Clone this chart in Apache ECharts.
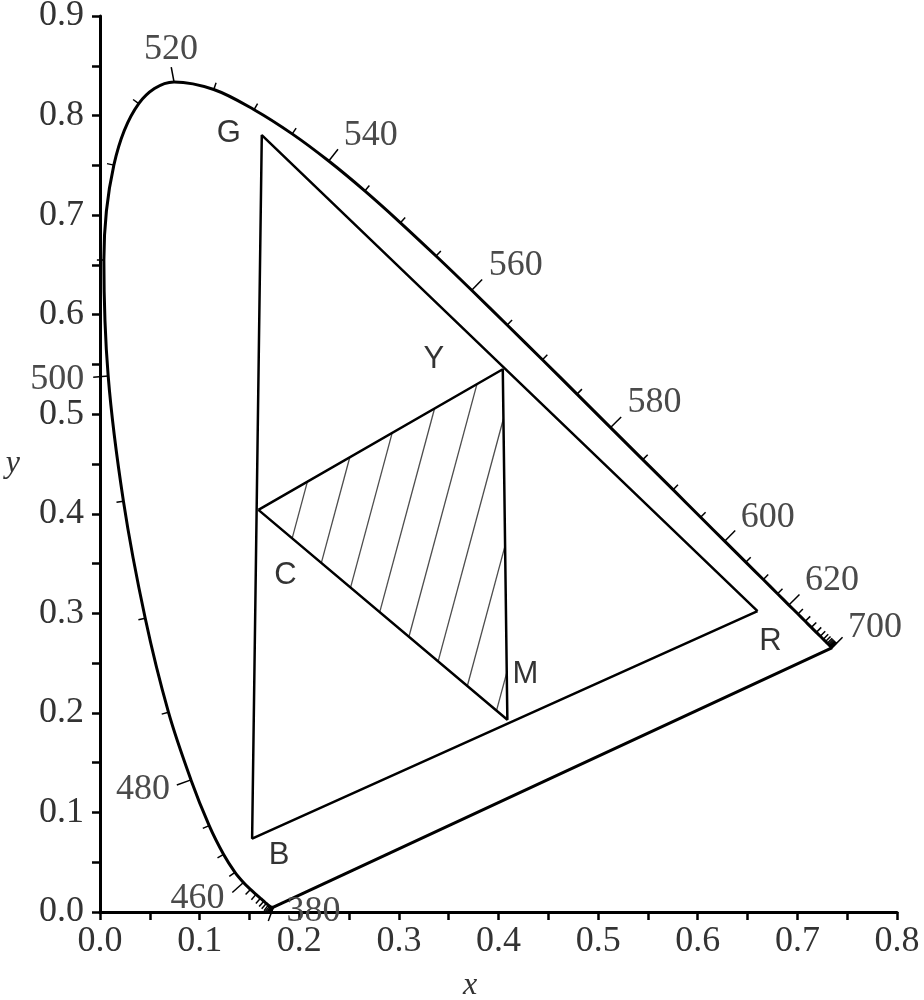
<!DOCTYPE html>
<html>
<head>
<meta charset="utf-8">
<script src="https://cdn.jsdelivr.net/npm/echarts/dist/echarts.min.js"></script>
<style>html,body{margin:0;padding:0;background:#fff}#c{width:924px;height:1000px}</style>
</head>
<body>
<div id="c"></div>
<script>
// ---------------- DATA ----------------
const wavelengths = [380,385,390,395,400,405,410,415,420,425,430,435,440,445,450,455,460,465,470,475,480,485,490,495,500,505,510,515,520,525,530,535,540,545,550,555,560,565,570,575,580,585,590,595,600,605,610,615,620,625,630,635,640,645,650,655,660,665,670,675,680,685,690,695,700];
const locusX = [0.1741,0.1740,0.1738,0.1736,0.1733,0.1730,0.1726,0.1721,0.1714,0.1703,0.1689,0.1669,0.1644,0.1611,0.1566,0.1510,0.1440,0.1355,0.1241,0.1096,0.0913,0.0687,0.0454,0.0235,0.0082,0.0039,0.0139,0.0389,0.0743,0.1142,0.1547,0.1929,0.2296,0.2658,0.3016,0.3373,0.3731,0.4087,0.4441,0.4788,0.5125,0.5448,0.5752,0.6029,0.6270,0.6482,0.6658,0.6801,0.6915,0.7006,0.7079,0.7140,0.7190,0.7230,0.7260,0.7283,0.7300,0.7311,0.7320,0.7327,0.7334,0.7340,0.7344,0.7346,0.7347];
const locusY = [0.0050,0.0050,0.0049,0.0049,0.0048,0.0048,0.0048,0.0048,0.0051,0.0058,0.0069,0.0086,0.0109,0.0138,0.0177,0.0227,0.0297,0.0399,0.0578,0.0868,0.1327,0.2007,0.2950,0.4127,0.5384,0.6548,0.7502,0.8120,0.8338,0.8262,0.8059,0.7816,0.7543,0.7243,0.6923,0.6589,0.6245,0.5896,0.5547,0.5202,0.4866,0.4544,0.4242,0.3965,0.3725,0.3514,0.3340,0.3197,0.3083,0.2993,0.2920,0.2859,0.2809,0.2770,0.2740,0.2717,0.2700,0.2689,0.2680,0.2673,0.2666,0.2660,0.2656,0.2654,0.2653];
const labeledWavelengths = [380,460,480,500,520,540,560,580,600,620,700];

const primaryNames = ['R','G','B'];
const primaryX = [0.6600, 0.1624, 0.1527];
const primaryY = [0.3023, 0.7804, 0.0738];

const secondaryNames = ['C','Y','M'];
const secondaryX = [0.1590, 0.4043, 0.4089];
const secondaryY = [0.4039, 0.5452, 0.1931];

// ---------------- STYLE ----------------
const serif = "'Liberation Serif','DejaVu Serif',serif";
const sans = "'Liberation Sans',Arial,sans-serif";
const wlLabelOffsets = {380:[40,5],460:[-46,16],480:[-48,10],500:[-51,4],520:[-3,-32],540:[42,-26],560:[44,-25],580:[44,-25],600:[43,-24],620:[43,-25],700:[43,-20]};
const vertexLabelOffsets = {R:[13,30],G:[-33,-2],B:[27,17],C:[27,66],Y:[-69,-10],M:[18,-45]};
const hatchDir = [0.26,-0.966];   // pixel direction of hatch strokes
const hatchSpacing = 34.6, hatchPhase = 40;

// ---------------- BUILD ----------------
const chart = echarts.init(document.getElementById('c'), null, {renderer:'canvas'});

const locusData = wavelengths.map((w,i)=>[locusX[i], locusY[i]]);
locusData.push([locusX[0], locusY[0]]); // line of purples

function closed(xs, ys){ const d = xs.map((x,i)=>[x, ys[i]]); d.push([xs[0], ys[0]]); return d; }

function tickRender(params, api){
  const i = api.value(3);
  const pts = locusX.map((x,k)=>api.coord([x, locusY[k]]));
  function far(step){
    let j = i + step;
    while (j >= 0 && j < pts.length){
      if (Math.hypot(pts[j][0]-pts[i][0], pts[j][1]-pts[i][1]) > 4) return j;
      j += step;
    }
    return i;
  }
  const a = far(-1), b = far(1);
  let tx = pts[b][0]-pts[a][0], ty = pts[b][1]-pts[a][1];
  const L = Math.hypot(tx,ty) || 1; tx/=L; ty/=L;
  const nx = ty, ny = -tx;
  const p = pts[i];
  const w = api.value(2);
  const labeled = labeledWavelengths.indexOf(w) >= 0;
  const len = labeled ? 15 : 7;
  const children = [{
    type:'line',
    shape:{x1:p[0], y1:p[1], x2:p[0]+nx*len, y2:p[1]+ny*len},
    style:{stroke:'#000', lineWidth:1.5}
  }];
  if (labeled){
    const o = wlLabelOffsets[w];
    children.push({
      type:'text',
      style:{text:String(w), x:p[0]+o[0], y:p[1]+o[1], align:'center', verticalAlign:'middle',
        font:"36px " + serif, fill:'#4a4a4a'}
    });
  }
  return {type:'group', children};
}

function hatchRender(params, api){
  const P = [0,1,2].map(k=>api.coord([api.value(2*k), api.value(2*k+1)]));
  const n = [-hatchDir[1], hatchDir[0]];
  const proj = q => q[0]*n[0] + q[1]*n[1];
  const c0 = proj(P[0]);
  const maxP = Math.max(proj(P[1]), proj(P[2])) - c0;
  const children = [];
  for (let s = hatchPhase; s < maxP; s += hatchSpacing){
    const c = c0 + s;
    const hits = [];
    for (let e=0;e<3;e++){
      const A = P[e], B = P[(e+1)%3];
      const fa = proj(A)-c, fb = proj(B)-c;
      if ((fa<=0 && fb>0) || (fa>0 && fb<=0)){
        const t = fa/(fa-fb);
        hits.push([A[0]+(B[0]-A[0])*t, A[1]+(B[1]-A[1])*t]);
      }
    }
    if (hits.length>=2){
      children.push({type:'line', shape:{x1:hits[0][0],y1:hits[0][1],x2:hits[1][0],y2:hits[1][1]},
        style:{stroke:'#4d4d4d', lineWidth:1.3}});
    }
  }
  return {type:'group', children};
}

const vertexData = primaryNames.map((nm,i)=>({name:nm, value:[primaryX[i], primaryY[i]]}))
  .concat(secondaryNames.map((nm,i)=>({name:nm, value:[secondaryX[i], secondaryY[i]]})))
  .map(d=>({name:d.name, value:d.value, label:{offset:vertexLabelOffsets[d.name]}}));

const axisCommon = {
  type:'value',
  interval:0.1,
  splitLine:{show:false},
  axisLine:{show:true, onZero:false, lineStyle:{color:'#000', width:3}},
  axisTick:{show:true, length:8, lineStyle:{color:'#000', width:2.5}},
  minorTick:{show:true, splitNumber:2, length:8, lineStyle:{color:'#000', width:2.5}},
  axisLabel:{formatter:v=>v.toFixed(1), fontFamily:serif, fontSize:36, color:'#333', showMinLabel:true, showMaxLabel:true},
  nameLocation:'middle',
  nameTextStyle:{fontFamily:serif, fontStyle:'italic', fontSize:32, color:'#333'}
};

chart.setOption({
  animation:false,
  backgroundColor:'#fff',
  grid:{left:100, right:27, top:16, bottom:88, containLabel:false, outerBoundsMode:'none'},
  xAxis:Object.assign({}, axisCommon, {min:0, max:0.8, name:'x', nameGap:58,
    axisLabel:Object.assign({}, axisCommon.axisLabel, {margin:12}),
    nameTextStyle:Object.assign({}, axisCommon.nameTextStyle, {padding:[0,57,0,0]})}),
  yAxis:Object.assign({}, axisCommon, {min:0, max:0.9, name:'y', nameGap:80, nameRotate:0,
    axisLabel:Object.assign({}, axisCommon.axisLabel, {margin:16, padding:[6,0,0,0]})}),
  series:[
    {type:'custom', renderItem:hatchRender, z:1, silent:true,
     data:[[secondaryX[0],secondaryY[0],secondaryX[1],secondaryY[1],secondaryX[2],secondaryY[2]]],
     encode:{x:[0,2,4], y:[1,3,5]}},
    {type:'line', data:locusData, symbol:'none', smooth:0.35, z:3, clip:false,
     lineStyle:{color:'#000', width:3}},
    {type:'line', data:closed(primaryX, primaryY), symbol:'none', z:3,
     lineStyle:{color:'#000', width:2.5}},
    {type:'line', data:closed(secondaryX, secondaryY), symbol:'none', z:3,
     lineStyle:{color:'#000', width:2.5}},
    {type:'custom', renderItem:tickRender, z:4, silent:true,
     data:wavelengths.map((w,i)=>[locusX[i], locusY[i], w, i]),
     encode:{x:0, y:1}},
    {type:'scatter', data:vertexData, symbolSize:1, z:5,
     itemStyle:{color:'rgba(0,0,0,0)'},
     label:{show:true, position:'inside', formatter:p=>p.name, fontFamily:sans, fontSize:31, color:'#000'}
    }
  ]
});
</script>
</body>
</html>
